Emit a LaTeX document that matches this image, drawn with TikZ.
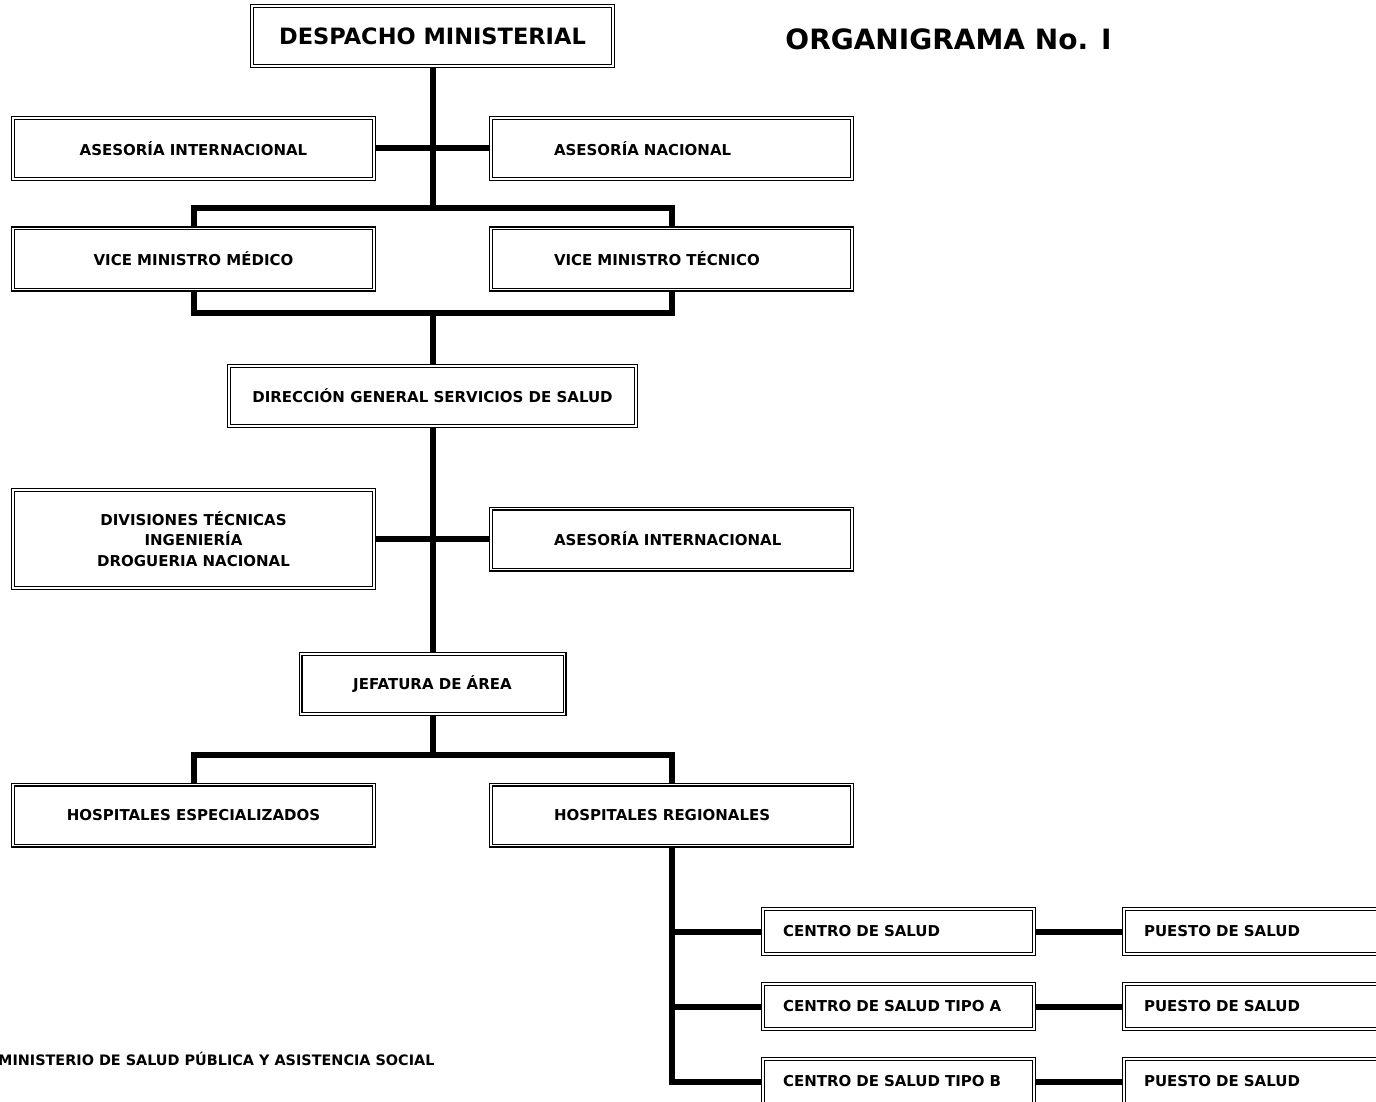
\documentclass[tikz,border=0pt]{standalone}
\usepackage{fontspec}
\setmainfont{DejaVu Sans}
\begin{document}
\begin{tikzpicture}[x=1pt,y=-1pt,
  box/.style={draw=black, line width=1.2pt, double=white, double distance=1.6pt,
    fill=white, inner sep=0pt, font=\fontsize{15}{20.5}\selectfont\bfseries},
  wbox/.style={box, minimum width=361pt, minimum height=61pt},
  rbox/.style={box, minimum height=61pt, text width=235pt, inner xsep=63pt, align=left},
  sbox/.style={box, minimum height=45pt, text width=231pt, inner xsep=20pt, align=left},
  conn/.style={line width=6pt, line join=miter, line cap=butt}]
\useasboundingbox (0,0) rectangle (1376,1102);
\fill[white] (0,0) rectangle (1376,1102);
\coordinate (bus1) at (432.5,208);
\coordinate (bus2) at (432.5,313);
\coordinate (bus3) at (432.5,755);
% nodes
\node[box, minimum width=361pt, minimum height=60pt, font=\fontsize{22.5}{26}\selectfont\bfseries] (desp) at (432.5,36) {DESPACHO MINISTERIAL};
\node[wbox] (aseint) at (193.5,148.5) {ASESORÍA INTERNACIONAL};
\node[rbox] (asenac) at (671.5,148.5) {ASESORÍA NACIONAL};
\node[wbox] (vmed) at (193.5,259) {VICE MINISTRO MÉDICO};
\node[rbox] (vtec) at (671.5,259) {VICE MINISTRO TÉCNICO};
\node[box, minimum width=407pt, minimum height=60pt] (dir) at (432.5,396) {DIRECCIÓN GENERAL SERVICIOS DE SALUD};
\node[box, minimum width=361pt, minimum height=98pt, align=center] (div) at (193.5,539) {DIVISIONES TÉCNICAS\\INGENIERÍA\\DROGUERIA NACIONAL};
\node[rbox] (asei2) at (671.5,539) {ASESORÍA INTERNACIONAL};
\node[box, minimum width=264pt, minimum height=60pt] (jef) at (432.5,684) {JEFATURA DE ÁREA};
\node[wbox] (hesp) at (193.5,815) {HOSPITALES ESPECIALIZADOS};
\node[rbox] (hreg) at (671.5,815) {HOSPITALES REGIONALES};
\node[sbox] (c1) at (898.5,931.5) {CENTRO DE SALUD};
\node[sbox] (c2) at (898.5,1006.5) {CENTRO DE SALUD TIPO A};
\node[sbox] (c3) at (898.5,1081.5) {CENTRO DE SALUD TIPO B};
\node[sbox] (p1) at (1259.5,931.5) {PUESTO DE SALUD};
\node[sbox] (p2) at (1259.5,1006.5) {PUESTO DE SALUD};
\node[sbox] (p3) at (1259.5,1081.5) {PUESTO DE SALUD};
\node[font=\fontsize{28}{32}\selectfont\bfseries, inner sep=0pt] (title) at (948.5,39) {ORGANIGRAMA No. I};
\node[font=\fontsize{14.4}{16}\selectfont\bfseries, inner sep=0pt, anchor=west] (foot) at (-2,1059) {MINISTERIO DE SALUD PÚBLICA Y ASISTENCIA SOCIAL};
% connectors
\draw[conn] (desp.south) -- (bus1);
\draw[conn] (aseint.east) -- (asenac.west);
\draw[conn] (vmed.north) |- (bus1) -| (vtec.north);
\draw[conn] (vmed.south) |- (bus2) -| (vtec.south);
\draw[conn] (bus2) -- (dir.north);
\draw[conn] (dir.south) -- (jef.north);
\draw[conn] (div.east) -- (asei2.west);
\draw[conn] (jef.south) -- (bus3);
\draw[conn] (hesp.north) |- (bus3) -| (hreg.north);
\draw[conn] (hreg.south) |- (c3.west);
\draw[conn] (hreg.south |- c1.west) -- (c1.west);
\draw[conn] (hreg.south |- c2.west) -- (c2.west);
\draw[conn] (c1.east) -- (p1.west);
\draw[conn] (c2.east) -- (p2.west);
\draw[conn] (c3.east) -- (p3.west);
\end{tikzpicture}
\end{document}
